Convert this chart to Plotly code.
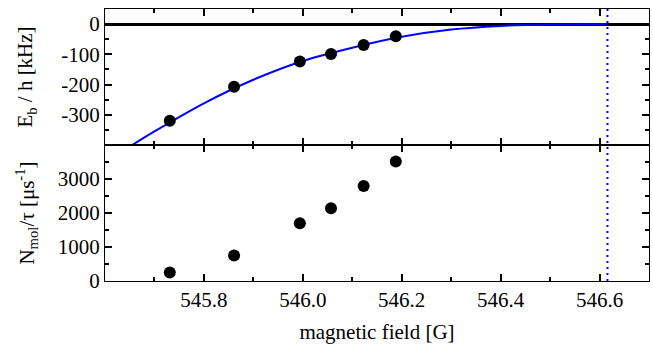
import plotly.graph_objects as go
from plotly.subplots import make_subplots

# measured data
field_G = [545.731, 545.861, 545.994, 546.057, 546.123, 546.188]
binding_kHz = [-320, -207, -124, -99, -69, -40]
rate_per_us = [247, 747, 1697, 2138, 2794, 3512]

# fit curve
curve_field_G = [545.655, 545.7, 545.8, 545.9, 546.0, 546.1, 546.2, 546.3, 546.4, 546.5, 546.616]
curve_binding_kHz = [-400, -355, -262, -184, -122, -78, -42, -18, -6, -1.5, 0]

resonance_field_G = 546.616

top_ticks = [0, -100, -200, -300]
bottom_ticks = [0, 1000, 2000, 3000]
x_ticks = [545.8, 546.0, 546.2, 546.4, 546.6]

FONT = "'Liberation Serif', 'Times New Roman', serif"
fig = make_subplots(rows=2, cols=1, shared_xaxes=True, vertical_spacing=0)

fig.add_trace(go.Scatter(x=curve_field_G, y=curve_binding_kHz, mode="lines",
                         line=dict(color="#0000ff", width=2, shape="spline", smoothing=0.8),
                         showlegend=False), row=1, col=1)
fig.add_trace(go.Scatter(x=field_G, y=binding_kHz, mode="markers",
                         marker=dict(color="black", size=12), showlegend=False), row=1, col=1)
fig.add_trace(go.Scatter(x=field_G, y=rate_per_us, mode="markers",
                         marker=dict(color="black", size=12), showlegend=False), row=2, col=1)

fig.add_shape(type="line", x0=resonance_field_G, x1=resonance_field_G, y0=0, y1=1,
              xref="x", yref="paper", line=dict(color="#0000ff", width=2, dash="2px,4px"))

axis_common = dict(showline=True, linecolor="black", linewidth=1.3, mirror="ticks",
                   ticks="inside", ticklen=7, tickwidth=1.5, tickcolor="black",
                   showgrid=False, tickfont=dict(family=FONT, size=21, color="black"))

xa = dict(axis_common, range=[545.6, 546.7], tickvals=x_ticks,
          ticktext=[f"{v:.1f}" for v in x_ticks],
          minor=dict(ticks="inside", ticklen=4, tickwidth=1.5, tickcolor="black", dtick=0.1, tick0=545.6, showgrid=False),
          zeroline=False)
fig.update_xaxes(**xa)
fig.update_xaxes(showticklabels=False, row=1, col=1)
fig.update_xaxes(title=dict(text="magnetic field [G]", font=dict(family=FONT, size=21, color="black"), standoff=12), row=2, col=1)

fig.update_yaxes(**axis_common)
fig.update_yaxes(range=[-400, 50], tickvals=top_ticks, ticktext=[str(v) for v in top_ticks],
                 minor=dict(ticks="inside", ticklen=4, tickwidth=1.5, tickcolor="black", dtick=50, tick0=0),
                 zeroline=True, zerolinecolor="black", zerolinewidth=2.5,
                 title=dict(text="E<sub>b</sub> / h [kHz]", font=dict(family=FONT, size=21, color="black"), standoff=22),
                 row=1, col=1)
fig.update_yaxes(range=[0, 4000], tickvals=bottom_ticks, ticktext=[str(v) for v in bottom_ticks],
                 minor=dict(ticks="inside", ticklen=4, tickwidth=1.5, tickcolor="black", dtick=500, tick0=0),
                 zeroline=False,
                 title=dict(text="N<sub>mol</sub>/τ [μs<sup>-1</sup>]", font=dict(family=FONT, size=21, color="black"), standoff=17),
                 row=2, col=1)

fig.update_layout(width=653, height=345, margin=dict(l=105, r=4, t=9, b=64),
                  paper_bgcolor="white", plot_bgcolor="white",
                  font=dict(family=FONT, size=21, color="black"))
fig.write_html("out.html", config={"displayModeBar": False},
               post_script="document.body.style.margin='0';document.body.style.overflow='hidden';")
